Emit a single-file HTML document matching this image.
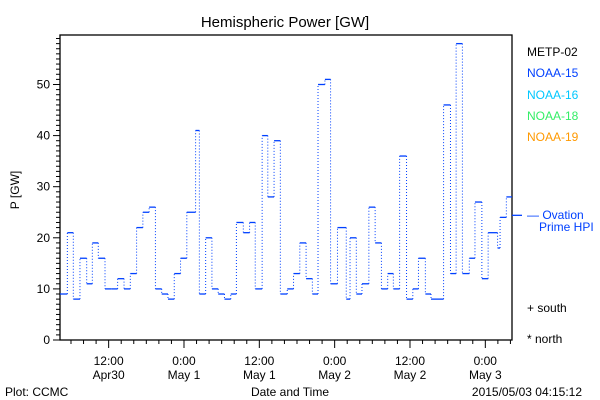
<!DOCTYPE html>
<html><head><meta charset="utf-8"><style>
body{margin:0;background:#fff;}
svg{display:block;font-family:"Liberation Sans",sans-serif;}
</style></head><body>
<svg id="chart" width="600" height="400" viewBox="0 0 600 400">
<text x="285" y="27" font-size="15" text-anchor="middle">Hemispheric Power [GW]</text>
<text transform="translate(19,190) rotate(-90)" font-size="12" text-anchor="middle">P [GW]</text>
<text x="290" y="396" font-size="12" text-anchor="middle">Date and Time</text>
<text x="5" y="396" font-size="12">Plot: CCMC</text>
<text x="582" y="396" font-size="12" text-anchor="end">2015/05/03 04:15:12</text>
<g font-size="12">
<text x="527" y="56" fill="#000">METP-02</text>
<text x="527" y="77" fill="#0040ff">NOAA-15</text>
<text x="527" y="99" fill="#00c8ff">NOAA-16</text>
<text x="527" y="120" fill="#33ee66">NOAA-18</text>
<text x="527" y="141" fill="#ff9900">NOAA-19</text>
<text x="527" y="219" fill="#0040ff">— Ovation</text>
<text x="539" y="231" fill="#0040ff">Prime HPI</text>
<text x="527" y="312" fill="#000">+ south</text>
<text x="527" y="343" fill="#000">* north</text>
</g>
</svg>
<script>
const segStart=[0,1.17,2.12,3.18,4.25,5.15,6.1,7.17,8.17,9.18,10.2,11.2,12.2,13.2,14.2,15.2,16.2,17.2,18.2,19.2,20.2,21.6,22.2,23.2,24.2,25.2,26.2,27.2,28.1,29.2,30.2,31.1,32.2,33.1,34.1,35.1,36.2,37.2,38.2,39.2,40.2,41.1,42.2,43.1,44.2,45.6,46.2,47.2,48.1,49.2,50.2,51.2,52.2,53.1,54.1,55.2,56.2,57.1,58.2,59.1,61.1,62.2,63.1,64.1,65.2,66.1,67.2,68.2,69.7,70.1,71.1];
const segValue=[9,21,8,16,11,19,16,10,10,12,10,13,22,25,26,10,9,8,13,16,25,41,9,20,10,9,8,9,23,21,23,10,40,28,39,9,10,13,19,12,9,50,51,11,22,8,20,9,11,26,19,10,13,10,36,8,10,16,9,8,46,13,58,13,16,27,12,21,18,24,28];
const endHour=72;
const yTicks=[0,10,20,30,40,50];
const xTickHours=[7.75,19.75,31.75,43.75,55.75,67.75];
const xTickTop=["12:00","0:00","12:00","0:00","12:00","0:00"];
const xTickBottom=["Apr30","May 1","May 1","May 2","May 2","May 3"];
const ovationValue=24.4;

const svg=document.getElementById('chart');
const NS='http://www.w3.org/2000/svg';
const L=60,R=512,T=35,B=340;
const xs=h=>L+h*(R-L)/endHour;
const ys=v=>B-v*5.11;
function mk(tag,attrs){const e=document.createElementNS(NS,tag);for(const k in attrs)e.setAttribute(k,attrs[k]);svg.appendChild(e);return e;}

const frame=mk('rect',{x:L,y:T,width:R-L,height:B-T,fill:'none',stroke:'#000','stroke-width':1.3});



for(let v=0;v<=59;v++){
  const major=v%10===0;
  const t=mk('line',{x1:L-(major?7:4),x2:L,y1:ys(v),y2:ys(v),stroke:'#000','stroke-width':1});
  
  
}
yTicks.forEach(v=>{
  const t=mk('text',{x:L-10,y:ys(v)+4,'font-size':12,'text-anchor':'end'});
  t.textContent=v;
  
  
});
for(let h=-0.25;h<=endHour;h+=2){
  if(h<0)continue;
  const major=xTickHours.some(m=>Math.abs(m-h)<0.01);
  const t=mk('line',{x1:xs(h),x2:xs(h),y1:B,y2:B+(major?8:4),stroke:'#000','stroke-width':1});
  
  
}
xTickHours.forEach((h,i)=>{
  const a=mk('text',{x:xs(h),y:365,'font-size':12,'text-anchor':'middle'});
  a.textContent=xTickTop[i];
  
  
  const b=mk('text',{x:xs(h),y:379,'font-size':12,'text-anchor':'middle'});
  b.textContent=xTickBottom[i];
  
  
});

for(let i=0;i<segValue.length;i++){
  const x1=xs(segStart[i]),x2=xs(i+1<segStart.length?segStart[i+1]:endHour);
  const s=mk('line',{x1:x1,x2:x2,y1:ys(segValue[i]),y2:ys(segValue[i]),stroke:'#0040ff','stroke-width':1.3});
  
  
  if(i+1<segValue.length){
    const d=mk('line',{x1:x2,x2:x2,y1:ys(segValue[i]),y2:ys(segValue[i+1]),stroke:'#0040ff','stroke-width':1,'stroke-dasharray':'1 2'});
    
    
  }
}
const ov=mk('line',{x1:R,x2:R+10,y1:ys(ovationValue),y2:ys(ovationValue),stroke:'#0040ff','stroke-width':1.3});


</script>
</body></html>
